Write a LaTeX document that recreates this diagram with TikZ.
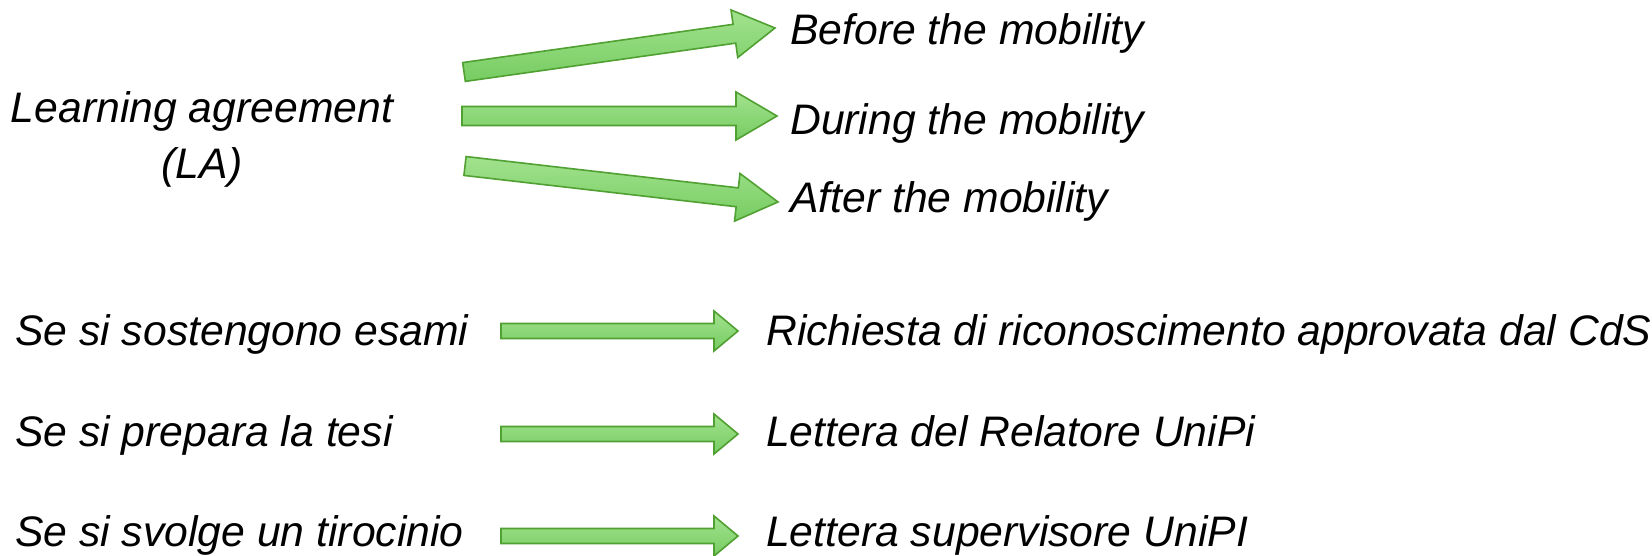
\documentclass[tikz,border=0pt]{standalone}
\usepackage{fontspec}
\setmainfont{Liberation Sans}
\usetikzlibrary{calc}
\definecolor{arrowborder}{RGB}{80,160,50}
\definecolor{arrowlight}{RGB}{162,226,142}
\definecolor{arrowdark}{RGB}{118,204,98}
\newcommand\blockarrow[5]{%
  \path let \p1=(#1), \p2=(#2) in \pgfextra{%
    \pgfmathsetmacro\baAng{atan2(\y2-\y1,\x2-\x1)}%
    \pgfmathsetmacro\baLen{veclen(\x2-\x1,\y2-\y1)}%
    \global\let\baAngG\baAng\global\let\baLenG\baLen};
  \begin{scope}[shift={(#1)},rotate=\baAngG]
    \shade[fatarrow] (0,#3) -- ({\baLenG-#5},#3) -- ({\baLenG-#5},#4) -- (\baLenG,0)
      -- ({\baLenG-#5},-#4) -- ({\baLenG-#5},-#3) -- (0,-#3) -- cycle;
  \end{scope}}
\begin{document}
\begin{tikzpicture}[x=1pt,y=1pt,
  fatarrow/.style={draw=arrowborder,line width=1.6pt,line join=miter,
    top color=arrowlight,bottom color=arrowdark},
  lbl/.style={inner sep=0pt,anchor=base west,font=\fontsize{42.7}{56}\selectfont\itshape}]
\useasboundingbox (0,0) rectangle (1652,556);
% texts
\node[inner sep=0pt,anchor=base,align=center,font=\fontsize{42.7}{56}\selectfont\itshape] (la) at (202,377.3) {Learning agreement\\(LA)};
\node[lbl] (before) at (790,511.7) {Before the mobility};
\node[lbl] (during) at (790,421.3) {During the mobility};
\node[lbl] (after) at (790,343) {After the mobility};
\node[lbl] (exam) at (15,210) {Se si sostengono esami};
\node[lbl] (tesi) at (15,109.5) {Se si prepara la tesi};
\node[lbl] (tiro) at (15,9) {Se si svolge un tirocinio};
\node[lbl] (rich) at (766,210) {Richiesta di riconoscimento approvata dal CdS};
\node[lbl] (relat) at (766,109.5) {Lettera del Relatore UniPi};
\node[lbl] (superv) at (766,9) {Lettera supervisore UniPI};
% arrow end points
\coordinate (a1s) at (464,484);
\coordinate (a1e) at (775,528);
\coordinate (a2s) at (462,440);
\coordinate (a2e) at (777,440);
\coordinate (a3s) at (465,390);
\coordinate (a3e) at (778,354);
\coordinate (b1s) at (501,225);
\coordinate (b1e) at (738,225);
\coordinate (b2s) at (501,122);
\coordinate (b2e) at (738,122);
\coordinate (b3s) at (501,20);
\coordinate (b3e) at (738,20);
\blockarrow{a1s}{a1e}{9.5}{24}{41}
\blockarrow{a2s}{a2e}{9.5}{24}{41}
\blockarrow{a3s}{a3e}{9.5}{24}{41}
\blockarrow{b1s}{b1e}{7.5}{20}{24}
\blockarrow{b2s}{b2e}{7.5}{20}{24}
\blockarrow{b3s}{b3e}{7.5}{20}{24}
\end{tikzpicture}
\end{document}
